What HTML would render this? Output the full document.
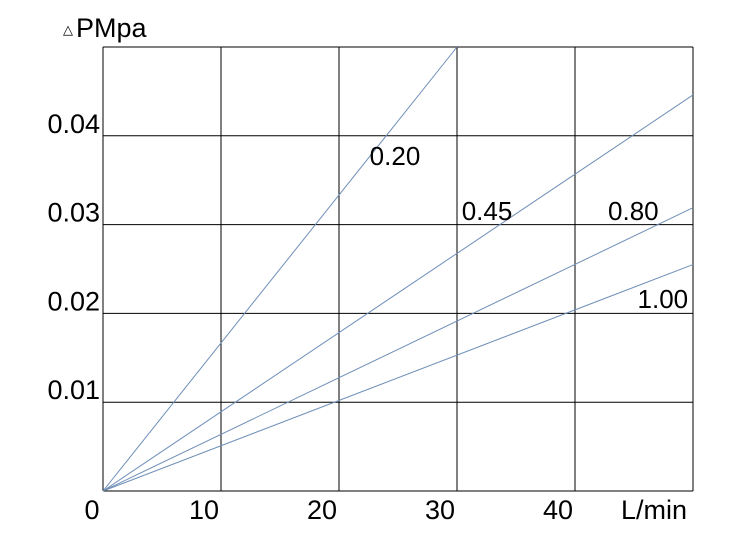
<!DOCTYPE html>
<html><head><meta charset="utf-8"><style>
html,body{margin:0;padding:0;background:#fff;}
svg{display:block;font-family:"Liberation Sans",Arial,sans-serif;}
</style></head><body>
<svg width="754" height="539" viewBox="0 0 754 539">
<g id="grid"></g>
<g id="series"></g>
<g id="labels"></g>
<text x="63" y="34" font-size="13" fill="#000">△</text>
<text x="76" y="37" font-size="27" fill="#000">PMpa</text>
<text x="621" y="519" font-size="27" fill="#000">L/min</text>
</svg>
<script>
const xTicks = [0, 10, 20, 30, 40];
const yTicks = [0.01, 0.02, 0.03, 0.04];
const seriesNames = ["0.20", "0.45", "0.80", "1.00"];
const seriesEndFlow = [30, 50, 50, 50];
const seriesEndDp = [0.05, 0.0446, 0.0319, 0.0255];
const labelFlow = [22.6, 30.4, 42.8, 45.3];
const labelDp = [0.0367, 0.0305, 0.0305, 0.0206];

const X0 = 103, X1 = 693, Y0 = 491, Y1 = 47;
const xMax = 50, yMax = 0.05;
function xs(v){ return X0 + (X1 - X0) * v / xMax; }
function ys(v){ return Y0 - (Y0 - Y1) * v / yMax; }
const NS = "http://www.w3.org/2000/svg";
function mk(tag, attrs, parent){
  const e = document.createElementNS(NS, tag);
  for (const k in attrs) e.setAttribute(k, attrs[k]);
  parent.appendChild(e); return e;
}
const grid = document.getElementById("grid");
const series = document.getElementById("series");
const labels = document.getElementById("labels");

for (let v = 0; v <= xMax; v += 10) {
  const l = mk("line", {x1: xs(v), x2: xs(v), y1: Y1, y2: Y0, stroke: "#000", "stroke-width": 1}, grid);
  
  
}
for (let i = 0; i <= 5; i++) {
  const v = i * 0.01;
  const l = mk("line", {x1: X0, x2: X1, y1: ys(v), y2: ys(v), stroke: "#000", "stroke-width": 1}, grid);
  
  
}
xTicks.forEach(v => {
  const t = mk("text", {x: v === 0 ? 92 : xs(v) - 17, y: 519, "font-size": 27, "text-anchor": "middle", fill: "#000"}, labels);
  t.textContent = String(v);
  
  
});
yTicks.forEach(v => {
  const t = mk("text", {x: 100, y: ys(v) - 3, "font-size": 27, "text-anchor": "end", fill: "#000"}, labels);
  t.textContent = v.toFixed(2);
  
  
});
seriesNames.forEach((n, i) => {
  const l = mk("line", {x1: xs(0), y1: ys(0), x2: xs(seriesEndFlow[i]), y2: ys(seriesEndDp[i]), stroke: "#6f8fb8", "stroke-width": 1}, series);
  
  
  const t = mk("text", {x: xs(labelFlow[i]), y: ys(labelDp[i]), "font-size": 26, "text-anchor": "start", fill: "#000"}, labels);
  t.textContent = n;
  
  
});
</script>
</body></html>
